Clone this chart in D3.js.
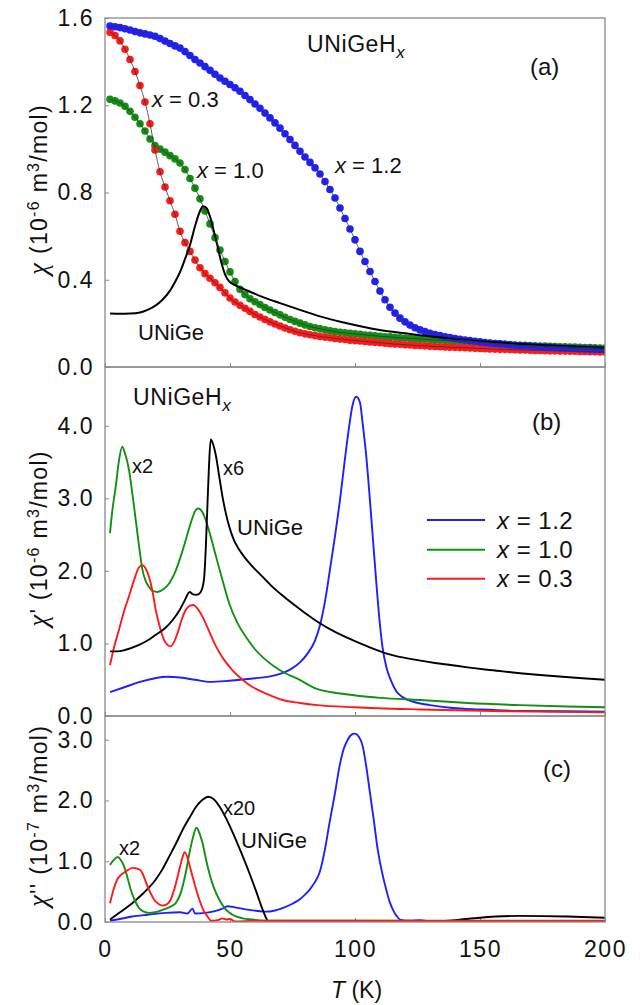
<!DOCTYPE html>
<html>
<head>
<meta charset="utf-8">
<script src="https://cdn.jsdelivr.net/npm/d3@7"></script>
<style>
  body { margin: 0; background: #fff; }
  text { font-family: "Liberation Sans", Arial, sans-serif; fill: #111; }
</style>
</head>
<body>
<div id="chart"></div>
<script>
// ---- data ----
var xTicks = [0, 50, 100, 150, 200];
var yTicksA = [0, 0.4, 0.8, 1.2, 1.6],
    yTicksB = [0, 1, 2, 3, 4],
    yTicksC = [0, 1, 2, 3];

// (a) dc susceptibility, measured every 2 K
var tempA = [2,4,6,8,10,12,14,16,18,20,22,24,26,28,30,32,34,36,38,40,
  42,44,46,48,50,52,54,56,58,60,62,64,66,68,70,72,74,76,78,80,
  82,84,86,88,90,92,94,96,98,100,102,104,106,108,110,112,114,116,118,120,
  122,124,126,128,130,132,134,136,138,140,142,144,146,148,150,152,154,156,158,160,
  162,164,166,168,170,172,174,176,178,180,182,184,186,188,190,192,194,196,198,200];

var chiX12 = [1.563,1.560,1.556,1.551,1.545,1.538,1.532,1.527,1.522,1.516,1.506,1.494,1.483,1.472,1.462,1.446,1.428,1.410,1.394,1.377,
  1.360,1.342,1.325,1.310,1.295,1.280,1.264,1.245,1.226,1.206,1.186,1.164,1.142,1.119,1.095,1.069,1.043,1.016,0.989,0.963,
  0.938,0.913,0.885,0.850,0.814,0.775,0.729,0.681,0.633,0.583,0.530,0.484,0.438,0.392,0.348,0.308,0.274,0.247,0.224,0.207,
  0.192,0.180,0.170,0.162,0.155,0.149,0.144,0.139,0.135,0.131,0.127,0.124,0.121,0.118,0.115,0.112,0.110,0.108,0.106,0.104,
  0.102,0.100,0.098,0.097,0.095,0.094,0.093,0.091,0.090,0.089,0.088,0.087,0.086,0.085,0.084,0.083,0.082,0.081,0.080,0.079];

var chiX10 = [1.227,1.220,1.210,1.195,1.172,1.145,1.115,1.082,1.045,1.015,0.999,0.985,0.969,0.954,0.935,0.905,0.864,0.820,0.771,0.715,
  0.656,0.593,0.536,0.484,0.436,0.392,0.356,0.332,0.313,0.299,0.286,0.273,0.261,0.250,0.239,0.228,0.218,0.209,0.201,0.193,
  0.186,0.180,0.175,0.170,0.166,0.162,0.159,0.157,0.154,0.152,0.150,0.147,0.145,0.143,0.141,0.139,0.138,0.136,0.134,0.133,
  0.131,0.130,0.129,0.127,0.126,0.124,0.123,0.122,0.120,0.119,0.118,0.116,0.115,0.113,0.112,0.110,0.109,0.107,0.106,0.104,
  0.103,0.101,0.100,0.099,0.098,0.097,0.096,0.096,0.095,0.094,0.093,0.093,0.092,0.091,0.090,0.089,0.089,0.088,0.087,0.087];

var chiX03 = [1.535,1.520,1.495,1.457,1.410,1.355,1.290,1.215,1.115,0.995,0.895,0.825,0.762,0.700,0.622,0.570,0.530,0.490,0.455,0.428,
  0.407,0.386,0.365,0.340,0.316,0.298,0.283,0.269,0.255,0.241,0.229,0.218,0.207,0.197,0.188,0.179,0.171,0.164,0.157,0.152,
  0.148,0.144,0.140,0.137,0.134,0.131,0.128,0.126,0.123,0.121,0.119,0.117,0.115,0.113,0.111,0.109,0.107,0.105,0.104,0.102,
  0.101,0.099,0.098,0.097,0.095,0.094,0.093,0.092,0.091,0.090,0.089,0.088,0.087,0.086,0.085,0.084,0.083,0.082,0.081,0.081,
  0.080,0.079,0.078,0.078,0.077,0.076,0.076,0.075,0.074,0.074,0.073,0.073,0.072,0.072,0.071,0.071,0.070,0.070,0.069,0.069];

var chiUNiGe = [[2,0.245],[6,0.244],[10,0.245],[14,0.250],[17,0.262],[20,0.280],[23,0.308],[26,0.350],[28,0.390],[30,0.435],
  [32,0.495],[34,0.560],[36,0.645],[38,0.715],[39.2,0.737],[40.5,0.730],[42,0.690],[43.5,0.625],[45,0.555],[46.5,0.480],
  [48,0.425],[49.7,0.392],[52,0.375],[56,0.355],[60,0.335],[64,0.317],[70,0.293],[78,0.262],[86,0.232],[95,0.205],
  [106,0.178],[116,0.160],[126,0.146],[140,0.130],[153,0.116],[170,0.103],[185,0.095],[200,0.088]];

// (b) real part chi'
var reX12 = [[2,0.33],[8,0.40],[14,0.47],[20,0.52],[25,0.54],[30,0.53],[36,0.50],[42,0.47],[48,0.48],[54,0.50],
  [60,0.52],[65,0.54],[70,0.58],[74,0.64],[78,0.74],[81,0.86],[84,1.04],[86,1.25],[88,1.58],[90,2.02],
  [92,2.48],[94,2.98],[96,3.55],[97.5,3.95],[99,4.28],[100.5,4.40],[102,4.32],[103,4.05],[104.4,3.62],[105.8,3.05],
  [107.1,2.47],[108.5,1.85],[109.8,1.32],[111,0.95],[112.5,0.68],[114.5,0.48],[116.5,0.34],[119,0.26],[123,0.20],[130,0.15],
  [139,0.11],[150,0.09],[166,0.07],[185,0.065],[200,0.06]];
var reX10 = [[2,2.52],[3,2.85],[4.3,3.16],[5.5,3.50],[6.9,3.71],[8,3.62],[9.6,3.39],[11,3.05],[12.3,2.70],[13.7,2.32],
  [15,2.01],[16.3,1.86],[17.6,1.78],[19.3,1.72],[21,1.71],[23.5,1.75],[25.7,1.83],[28,1.98],[30.3,2.20],[32.5,2.45],
  [34.3,2.66],[36,2.82],[37.2,2.86],[38.8,2.82],[40.3,2.70],[42.3,2.47],[44.4,2.20],[47,1.87],[49.7,1.55],[53,1.28],
  [56.4,1.09],[60,0.92],[64.4,0.77],[70,0.63],[77.7,0.50],[85,0.37],[92,0.32],[98.8,0.29],[110,0.25],[126,0.22],
  [145,0.18],[166,0.15],[185,0.13],[200,0.12]];
var reX03 = [[2,0.70],[3.5,0.93],[5.6,1.19],[7.5,1.43],[9.6,1.65],[11.6,1.87],[13.6,2.05],[15,2.08],[16.3,2.03],[17.6,1.92],
  [19,1.72],[20.3,1.46],[22,1.22],[23.6,1.05],[25,0.98],[26.3,0.96],[27.6,1.02],[29,1.14],[30.6,1.32],[32.3,1.46],
  [34,1.52],[35.4,1.53],[37,1.48],[39,1.37],[41.5,1.18],[44.4,0.96],[47.5,0.78],[51,0.63],[55,0.50],[59,0.40],
  [65,0.30],[71,0.22],[78,0.18],[85,0.15],[100,0.12],[126,0.09],[160,0.065],[200,0.05]];
var reUNiGe = [[2,0.89],[5,0.89],[8,0.91],[13.6,0.98],[17,1.04],[20.3,1.12],[24,1.21],[27,1.32],[29.5,1.44],[31.7,1.58],
  [33.9,1.71],[35,1.68],[36.3,1.67],[37.5,1.68],[38.3,1.71],[39.2,1.80],[39.7,1.92],[40.3,2.30],[41,2.93],[41.6,3.45],
  [42.3,3.81],[43.2,3.75],[44.4,3.58],[45.7,3.30],[47,3.02],[48.3,2.80],[49.7,2.61],[51.5,2.43],[53.7,2.29],[56,2.18],
  [59,2.06],[63,1.92],[67,1.78],[71,1.66],[75,1.55],[80,1.42],[85,1.30],[92,1.16],[98.8,1.05],[105,0.96],
  [112.7,0.86],[125,0.77],[132,0.73],[139,0.70],[145,0.67],[152,0.64],[159,0.615],[166,0.59],[174,0.565],[183,0.54],[191,0.52],[200,0.50]];

// (c) imaginary part chi''
var imX12 = [[2,0.02],[6,0.05],[10.9,0.09],[17,0.12],[24.3,0.15],[30,0.16],[33,0.14],[35,0.22],[36,0.14],[40,0.15],
  [44,0.18],[47,0.22],[49,0.26],[52,0.24],[57.7,0.20],[64,0.17],[68,0.19],[71,0.23],[75,0.30],[77.8,0.37],
  [80,0.45],[81.8,0.53],[84,0.66],[85.8,0.81],[88,1.20],[89.8,1.63],[92,2.12],[93.8,2.56],[95.5,2.85],[97.1,3.00],
  [98.5,3.08],[100,3.10],[101.5,3.05],[103.1,2.89],[104.5,2.56],[105.8,2.18],[107.5,1.68],[109.1,1.19],[110.8,0.82],[112.5,0.53],
  [113.8,0.34],[115.2,0.20],[116.6,0.10],[118,0.04],[122,0.02],[126,0.03],[130,0.01],[200,0.01]];
var imX10 = [[2,0.94],[3.5,1.02],[5.2,1.07],[6.3,1.02],[7.6,0.92],[9,0.73],[10.3,0.53],[12,0.35],[13.6,0.23],[15.5,0.17],
  [17.6,0.15],[20,0.16],[23,0.20],[26,0.25],[28.3,0.31],[30.3,0.48],[32.3,0.81],[34,1.18],[35,1.36],[36.6,1.55],
  [37.8,1.46],[39,1.30],[40.3,1.05],[41.7,0.81],[43.5,0.57],[45.7,0.37],[48,0.22],[51,0.12],[55,0.06],[59,0.04],
  [65,0.02],[80,0.02],[100,0.02],[200,0.01]];
var imX03 = [[2,0.31],[3.3,0.52],[4.9,0.70],[6.5,0.78],[8.3,0.83],[10.9,0.89],[12.7,0.88],[14.3,0.85],[15.6,0.74],[17,0.59],
  [18.3,0.47],[19.6,0.37],[21.3,0.30],[23,0.27],[24.7,0.29],[26.3,0.37],[28,0.58],[29.7,0.86],[30.9,1.05],[31.9,1.15],
  [32.8,1.08],[34.3,0.86],[36,0.60],[37.7,0.37],[39.3,0.20],[41,0.09],[42.5,0.02],[45,0.03],[47,0.06],[48.5,0.04],
  [50,0.05],[52,0.01],[60,0.02],[100,0.02],[200,0.02]];
var imUNiGe = [[2,0.04],[6,0.16],[10.9,0.31],[15,0.46],[20.3,0.70],[23,0.87],[25.7,1.08],[28.5,1.30],[31.1,1.52],[34,1.73],
  [36.5,1.90],[39,2.01],[41.2,2.06],[43.5,2.02],[45.8,1.90],[48.5,1.70],[51.1,1.47],[54.5,1.14],[57.7,0.81],[60.5,0.50],
  [63.1,0.20],[65.5,0.01],[70,0],[100,0],[130,0],[140,0.03],[150,0.07],[166,0.10],[185,0.09],[200,0.07]];

var legendLabels = ["1.2", "1.0", "0.3"];

// ---- layout ----
var width = 640, height = 1005;
var left = 105, right = 605;
var blue = "#1f1fff", green = "#139013", red = "#ff1a1a", black = "#000";
var frameColor = "#8a8a8a";

var svg = d3.select("#chart").append("svg")
    .attr("width", width)
    .attr("height", height);

var x = d3.scaleLinear().domain([0, 200]).range([left, right]);

var panels = [
  { top: 18,  bottom: 367, max: 1.6,  ticks: yTicksA },
  { top: 367, bottom: 716, max: 4.81, ticks: yTicksB },
  { top: 716, bottom: 922, max: 3.39, ticks: yTicksC }
];

panels.forEach(function(p, k) {
  p.y = d3.scaleLinear().domain([0, p.max]).range([p.bottom, p.top]);

  var yAxis = svg.append("g")
      .attr("transform", "translate(" + left + ",0)")
      .call(d3.axisLeft(p.y).tickValues(p.ticks).tickSize(-4).tickPadding(11).tickFormat(d3.format(".1f")));
  yAxis.select(".domain").remove();
  yAxis.selectAll("line").attr("stroke", frameColor);
  yAxis.selectAll("text").style("font-size", "23px").style("letter-spacing", "1.5px").attr("fill", "#111");

  var xAxis = svg.append("g")
      .attr("transform", "translate(0," + p.bottom + ")")
      .call(d3.axisBottom(x).tickValues(xTicks).tickSize(-4).tickPadding(19));
  xAxis.select(".domain").remove();
  xAxis.selectAll("line").attr("stroke", frameColor);
  if (k < 2) xAxis.selectAll("text").remove();
  else xAxis.selectAll("text").style("font-size", "23px").style("letter-spacing", "1.5px").attr("fill", "#111");
});

svg.append("defs").append("clipPath").attr("id", "plotArea")
  .append("rect").attr("x", left).attr("y", 18).attr("width", right - left).attr("height", 922 - 18);

var plot = svg.append("g").attr("clip-path", "url(#plotArea)");

function lineFor(p) {
  return d3.line()
      .x(function(d) { return x(d[0]); })
      .y(function(d) { return p.y(d[1]); })
      .curve(d3.curveMonotoneX);
}

// ---- panel (a): dotted curves ----
var pa = panels[0];
var lineA = lineFor(pa);
var dotted = [
  { v: chiX10, color: green },
  { v: chiX03, color: red },
  { v: chiX12, color: blue }
];
dotted.forEach(function(s) {
  var pts = tempA.map(function(t, i) { return [t, s.v[i]]; });
  plot.append("g").selectAll("circle")
      .data(pts)
    .enter().append("circle")
      .attr("cx", function(d) { return x(d[0]); })
      .attr("cy", function(d) { return pa.y(d[1]); })
      .attr("r", 3.8)
      .attr("fill", s.color);
  s.pts = pts;
});
plot.append("path")
    .datum(chiUNiGe)
    .attr("d", lineA)
    .attr("fill", "none")
    .attr("stroke", black)
    .attr("stroke-width", 2);
dotted.forEach(function(s) {
  plot.append("path")
      .datum(s.pts)
      .attr("d", lineA)
      .attr("fill", "none")
      .attr("stroke", "#333")
      .attr("stroke-width", 0.8);
});

// ---- panels (b) and (c): solid curves ----
function drawLines(p, series) {
  var line = lineFor(p);
  series.forEach(function(s) {
    plot.append("path")
        .datum(s.v)
        .attr("d", line)
        .attr("fill", "none")
        .attr("stroke", s.color)
        .attr("stroke-width", 1.9)
        .attr("stroke-linejoin", "round");
  });
}
drawLines(panels[1], [
  { v: reX12, color: blue }, { v: reX10, color: green },
  { v: reX03, color: red }, { v: reUNiGe, color: black }
]);
drawLines(panels[2], [
  { v: imX12, color: blue }, { v: imUNiGe, color: black },
  { v: imX10, color: green }, { v: imX03, color: red }
]);

// ---- frames ----
panels.forEach(function(p) {
  svg.append("rect")
      .attr("x", left).attr("y", p.top)
      .attr("width", right - left).attr("height", p.bottom - p.top)
      .attr("fill", "none")
      .attr("stroke", frameColor)
      .attr("stroke-width", 1.3);
});

// ---- text ----
function label(p, t, v, parts, size, spacing) {
  var el = svg.append("text")
      .attr("x", x(t)).attr("y", p.y(v))
      .style("font-size", (size || 22) + "px");
  if (spacing) el.style("letter-spacing", spacing + "px");
  parts.forEach(function(part) {
    var ts = el.append("tspan").text(part.t);
    if (part.i) ts.style("font-style", "italic");
    if (part.dy) ts.attr("dy", part.dy);
    if (part.s) ts.style("font-size", part.s + "px");
  });
  return el;
}
function compound(p, t, v) {
  label(p, t, v, [{ t: "UNiGeH" }, { t: "x", i: true, s: 17, dy: 6 }], 23, 0.6);
}
function eq(p, t, v, val) {
  label(p, t, v, [{ t: "x", i: true }, { t: " = " + val }]);
}

compound(pa, 80.8, 1.446);
label(pa, 170, 1.339, [{ t: "(a)" }], 24);
eq(pa, 18.8, 1.192, "0.3");
eq(pa, 36.8, 0.867, "1.0");
eq(pa, 92, 0.889, "1.2");
label(pa, 13.2, 0.124, [{ t: "UNiGe" }]);

var pb = panels[1];
compound(pb, 11.2, 4.29);
label(pb, 170.8, 3.94, [{ t: "(b)" }], 24);
label(pb, 10.8, 3.35, [{ t: "x2" }], 20);
label(pb, 47.2, 3.32, [{ t: "x6" }], 20);
label(pb, 52.8, 2.50, [{ t: "UNiGe" }]);

// legend
var legendColors = [blue, green, red];
var legendY = [2.70, 2.29, 1.89];
legendLabels.forEach(function(l, i) {
  svg.append("line")
      .attr("x1", x(128.8)).attr("x2", x(152))
      .attr("y1", pb.y(legendY[i])).attr("y2", pb.y(legendY[i]))
      .attr("stroke", legendColors[i])
      .attr("stroke-width", 2);
  var el = svg.append("text")
      .attr("x", x(156.8)).attr("y", pb.y(legendY[i]) + 8.5)
      .style("font-size", "24px")
      .style("letter-spacing", "0.5px");
  el.append("tspan").style("font-style", "italic").text("x");
  el.append("tspan").text(" = " + l);
});

var pc = panels[2];
label(pc, 175.2, 2.39, [{ t: "(c)" }], 24);
label(pc, 47.2, 1.76, [{ t: "x20" }], 20);
label(pc, 54.4, 1.22, [{ t: "UNiGe" }]);
label(pc, 5.6, 1.10, [{ t: "x2" }], 20);

// axis titles
function yTitle(p, prime, exp) {
  var cy = (p.top + p.bottom) / 2 - 3;
  var el = svg.append("text")
      .attr("transform", "translate(47," + cy + ") rotate(-90)")
      .attr("text-anchor", "middle")
      .style("font-size", "23px")
      .style("letter-spacing", "1.3px");
  el.append("tspan")
      .style("font-family", "'Liberation Serif', serif")
      .style("font-style", "italic")
      .style("font-size", "27px")
      .text("χ");
  el.append("tspan").text(prime + " (10");
  el.append("tspan").attr("dy", -8).style("font-size", "16px").text(exp);
  el.append("tspan").attr("dy", 8).text(" m");
  el.append("tspan").attr("dy", -8).style("font-size", "16px").text("3");
  el.append("tspan").attr("dy", 8).text("/mol)");
}
yTitle(pa, "", "-6");
yTitle(pb, "'", "-6");
yTitle(pc, "''", "-7");

var xt = svg.append("text")
    .attr("x", x(100.6)).attr("y", 998)
    .attr("text-anchor", "middle")
    .style("font-size", "23px");
xt.append("tspan").style("font-style", "italic").text("T");
xt.append("tspan").text(" (K)");
</script>
</body>
</html>
